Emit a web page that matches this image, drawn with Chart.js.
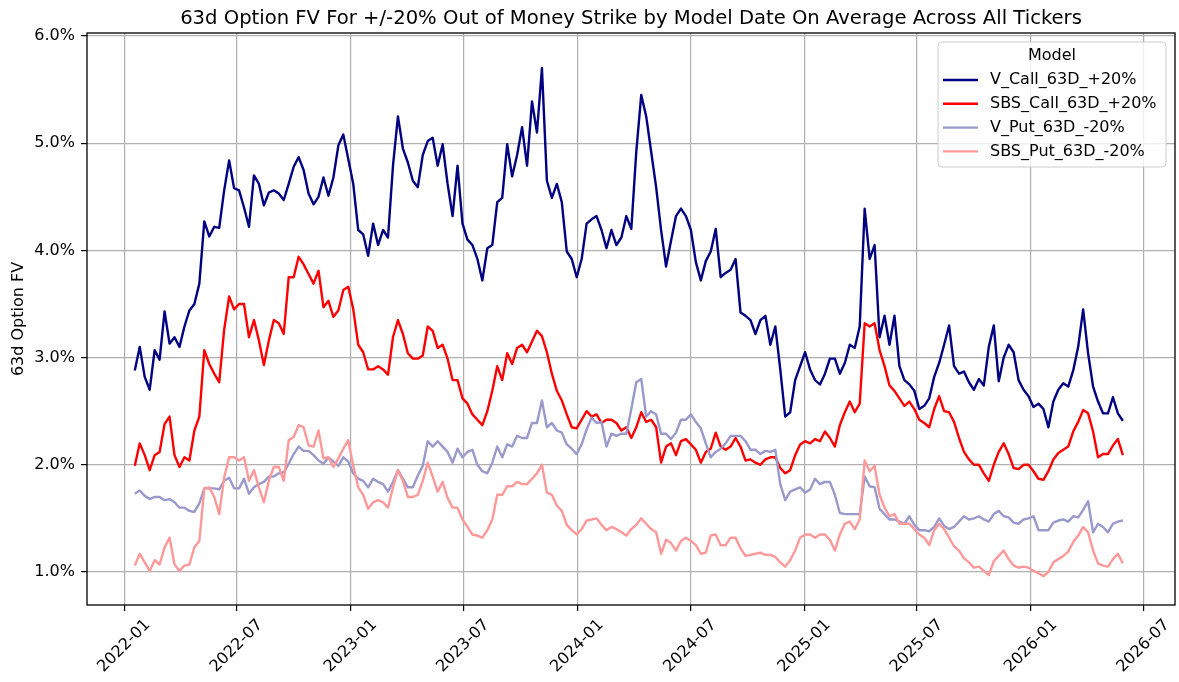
<!DOCTYPE html>
<html>
<head>
<meta charset="utf-8">
<script src="https://cdn.jsdelivr.net/npm/chart.js@4.4.1/dist/chart.umd.min.js"></script>
<style>
  html, body { margin: 0; padding: 0; background: #fff; }
  #wrap { width: 1179px; height: 682px; }
</style>
</head>
<body>
<div id="wrap"><canvas id="chart" width="1179" height="682"></canvas></div>
<script>
// sampled every 8 days from the first model date
const startDate = '2022-01-18';
const stepDays = 8;

const vCall = [
  2.88, 3.10, 2.82, 2.70, 3.07, 2.98, 3.43, 3.13, 3.19, 3.10,
  3.29, 3.44, 3.50, 3.69, 4.27, 4.13, 4.22, 4.21, 4.56, 4.84,
  4.58, 4.56, 4.40, 4.22, 4.70, 4.62, 4.42, 4.54, 4.56, 4.53,
  4.47, 4.62, 4.78, 4.87, 4.75, 4.53, 4.43, 4.50, 4.68, 4.51,
  4.68, 4.98, 5.08, 4.85, 4.62, 4.19, 4.15, 3.95, 4.25, 4.05,
  4.19, 4.12, 4.79, 5.25, 4.95, 4.82, 4.65, 4.59, 4.89, 5.02,
  5.05, 4.79, 4.99, 4.62, 4.32, 4.79, 4.25, 4.10, 4.05, 3.92,
  3.72, 4.02, 4.05, 4.45, 4.49, 4.99, 4.69, 4.89, 5.15, 4.79,
  5.39, 5.10, 5.70, 4.65, 4.49, 4.62, 4.45, 3.99, 3.92, 3.75,
  3.92, 4.25, 4.29, 4.32, 4.19, 4.02, 4.19, 4.05, 4.12, 4.32,
  4.20, 4.92, 5.45, 5.25, 4.92, 4.59, 4.19, 3.85, 4.09, 4.32,
  4.39, 4.32, 4.19, 3.89, 3.72, 3.90, 3.99, 4.20, 3.75, 3.79,
  3.82, 3.92, 3.42, 3.39, 3.35, 3.22, 3.35, 3.39, 3.12, 3.29,
  2.89, 2.45, 2.49, 2.79, 2.92, 3.05, 2.89, 2.79, 2.75, 2.85,
  2.99, 2.99, 2.85, 2.95, 3.12, 3.09, 3.29, 4.39, 3.92, 4.05,
  3.19, 3.39, 3.12, 3.39, 2.92, 2.79, 2.75, 2.69, 2.52, 2.55,
  2.62, 2.82, 2.95, 3.12, 3.30, 2.92, 2.85, 2.87, 2.77, 2.70,
  2.80, 2.74, 3.10, 3.30, 2.78, 3.00, 3.12, 3.05, 2.79, 2.70,
  2.64, 2.54, 2.57, 2.52, 2.35, 2.59, 2.70, 2.76, 2.73, 2.88,
  3.10, 3.45, 3.04, 2.73, 2.59, 2.48, 2.48, 2.63, 2.48, 2.41
];

const sbsCall = [
  1.99, 2.20, 2.09, 1.95, 2.09, 2.12, 2.38, 2.45, 2.09, 1.98,
  2.07, 2.04, 2.32, 2.45, 3.07, 2.94, 2.85, 2.77, 3.26, 3.57,
  3.45, 3.50, 3.50, 3.19, 3.35, 3.16, 2.93, 3.16, 3.35, 3.32,
  3.22, 3.75, 3.75, 3.94, 3.87, 3.78, 3.69, 3.81, 3.47, 3.53,
  3.38, 3.44, 3.63, 3.66, 3.45, 3.12, 3.05, 2.89, 2.89, 2.92,
  2.89, 2.84, 3.19, 3.35, 3.22, 3.04, 2.99, 2.99, 3.02, 3.29,
  3.25, 3.09, 3.12, 2.99, 2.79, 2.79, 2.62, 2.57, 2.47, 2.42,
  2.37, 2.50, 2.69, 2.92, 2.79, 3.04, 2.94, 3.09, 3.12, 3.05,
  3.15, 3.25, 3.20, 3.05, 2.85, 2.69, 2.60, 2.47, 2.35, 2.34,
  2.42, 2.50, 2.45, 2.47, 2.39, 2.42, 2.42, 2.39, 2.32, 2.35,
  2.25, 2.35, 2.49, 2.40, 2.42, 2.35, 2.02, 2.17, 2.20, 2.09,
  2.22, 2.24, 2.19, 2.14, 2.02, 2.12, 2.15, 2.30, 2.17, 2.14,
  2.17, 2.25, 2.17, 2.04, 2.05, 2.02, 2.00, 2.05, 2.07, 2.07,
  1.97, 1.92, 1.95, 2.09, 2.19, 2.22, 2.20, 2.24, 2.22, 2.31,
  2.25, 2.17, 2.37, 2.49, 2.59, 2.49, 2.57, 3.32, 3.29, 3.32,
  3.07, 2.92, 2.74, 2.69, 2.62, 2.55, 2.59, 2.52, 2.42, 2.39,
  2.35, 2.52, 2.64, 2.50, 2.49, 2.40, 2.25, 2.12, 2.05, 2.00,
  2.00, 1.92, 1.85, 2.00, 2.12, 2.20, 2.10, 1.97, 1.96, 2.00,
  2.00, 1.94, 1.87, 1.86, 1.94, 2.05, 2.11, 2.14, 2.17, 2.31,
  2.40, 2.51, 2.48, 2.31, 2.07, 2.10, 2.10, 2.18, 2.24, 2.09
];

const vPut = [
  1.73, 1.76, 1.71, 1.68, 1.70, 1.70, 1.67, 1.68, 1.65, 1.60,
  1.60, 1.57, 1.56, 1.64, 1.78, 1.78, 1.78, 1.77, 1.85, 1.88,
  1.78, 1.78, 1.87, 1.73, 1.79, 1.82, 1.84, 1.89, 1.89, 1.92,
  1.93, 2.01, 2.10, 2.17, 2.13, 2.13, 2.09, 2.04, 2.01, 2.07,
  2.03, 1.99, 2.07, 2.03, 1.92, 1.87, 1.85, 1.79, 1.87, 1.84,
  1.82, 1.75, 1.84, 1.95, 1.87, 1.79, 1.79, 1.90, 1.99, 2.22,
  2.17, 2.22, 2.17, 2.12, 2.02, 2.15, 2.07, 2.12, 2.14, 2.00,
  1.94, 1.92, 2.02, 2.17, 2.07, 2.19, 2.17, 2.27, 2.25, 2.25,
  2.39, 2.39, 2.60, 2.35, 2.39, 2.32, 2.30, 2.19, 2.15, 2.10,
  2.19, 2.33, 2.44, 2.39, 2.40, 2.17, 2.29, 2.27, 2.29, 2.29,
  2.52, 2.77, 2.80, 2.45, 2.50, 2.47, 2.29, 2.29, 2.24, 2.30,
  2.42, 2.42, 2.47, 2.40, 2.34, 2.20, 2.07, 2.12, 2.15, 2.20,
  2.27, 2.27, 2.27, 2.22, 2.14, 2.14, 2.10, 2.13, 2.12, 2.14,
  1.82, 1.67, 1.75, 1.77, 1.79, 1.74, 1.77, 1.87, 1.82, 1.84,
  1.84, 1.72, 1.55, 1.54, 1.54, 1.54, 1.54, 1.89, 1.80, 1.79,
  1.59, 1.54, 1.49, 1.49, 1.47, 1.45, 1.52, 1.44, 1.39, 1.39,
  1.38, 1.42, 1.50, 1.43, 1.40, 1.42, 1.47, 1.52, 1.49, 1.50,
  1.52, 1.49, 1.47, 1.54, 1.57, 1.52, 1.51, 1.46, 1.45, 1.49,
  1.50, 1.52, 1.39, 1.39, 1.39, 1.46, 1.48, 1.49, 1.47, 1.52,
  1.51, 1.58, 1.66, 1.37, 1.45, 1.42, 1.37, 1.45, 1.47, 1.48
];

const sbsPut = [
  1.06, 1.17, 1.09, 1.01, 1.11, 1.07, 1.23, 1.32, 1.07, 1.01,
  1.06, 1.07, 1.23, 1.29, 1.78, 1.79, 1.70, 1.54, 1.88, 2.07,
  2.07, 2.04, 2.07, 1.85, 1.95, 1.79, 1.65, 1.85, 1.98, 1.98,
  1.85, 2.23, 2.26, 2.37, 2.35, 2.18, 2.17, 2.32, 2.06, 2.07,
  1.98, 2.06, 2.15, 2.23, 1.99, 1.79, 1.72, 1.59, 1.65, 1.67,
  1.65, 1.60, 1.79, 1.95, 1.85, 1.70, 1.70, 1.72, 1.85, 2.02,
  1.89, 1.75, 1.84, 1.69, 1.60, 1.60, 1.49, 1.42, 1.35, 1.34,
  1.32, 1.39, 1.49, 1.72, 1.72, 1.80, 1.80, 1.84, 1.82, 1.82,
  1.87, 1.92, 2.00, 1.74, 1.72, 1.62, 1.57, 1.44, 1.39, 1.35,
  1.40, 1.48, 1.49, 1.50, 1.44, 1.39, 1.42, 1.40, 1.37, 1.34,
  1.40, 1.44, 1.50, 1.45, 1.40, 1.37, 1.17, 1.30, 1.27, 1.20,
  1.29, 1.32, 1.29, 1.25, 1.17, 1.18, 1.34, 1.35, 1.25, 1.25,
  1.32, 1.32, 1.22, 1.15, 1.16, 1.17, 1.18, 1.16, 1.16, 1.14,
  1.09, 1.05, 1.11, 1.20, 1.32, 1.35, 1.35, 1.32, 1.35, 1.35,
  1.30, 1.20, 1.35, 1.45, 1.47, 1.40, 1.49, 2.04, 1.94, 1.99,
  1.72, 1.60, 1.52, 1.54, 1.45, 1.45, 1.45, 1.40, 1.35, 1.32,
  1.25, 1.39, 1.45, 1.40, 1.32, 1.24, 1.20, 1.13, 1.09, 1.04,
  1.05, 1.01, 0.97, 1.10, 1.15, 1.20, 1.12, 1.06, 1.04, 1.05,
  1.04, 1.01, 0.99, 0.96, 1.00, 1.09, 1.12, 1.15, 1.19, 1.28,
  1.34, 1.42, 1.37, 1.20, 1.08, 1.06, 1.05, 1.12, 1.17, 1.08
];

const seriesLabels = ['V_Call_63D_+20%', 'SBS_Call_63D_+20%', 'V_Put_63D_-20%', 'SBS_Put_63D_-20%'];
const xTickLabels = ['2022-01', '2022-07', '2023-01', '2023-07', '2024-01', '2024-07', '2025-01', '2025-07', '2026-01', '2026-07'];
const yTickValues = [1, 2, 3, 4, 5, 6];

const chartTitle = '63d Option FV For +/-20% Out of Money Strike by Model Date On Average Across All Tickers';
const FONT = '"DejaVu Sans", sans-serif';
const DAY = 86400000;

const monthToMs = (label) => {
  const [y, m] = label.split('-').map(Number);
  return Date.UTC(y, m - 1, 1);
};

const startMs = Date.parse(`${startDate}T00:00:00Z`);
const toPoints = (values) => values.map((v, i) => ({ x: startMs + i * stepDays * DAY, y: v }));

const legendBox = {
  id: 'legendBox',
  afterDraw(chart) {
    const { ctx, chartArea: area, scales: { x } } = chart;
    ctx.save();

    // axes frame
    ctx.strokeStyle = '#000';
    ctx.lineWidth = 1.3;
    ctx.strokeRect(area.left, area.top, area.right - area.left, area.bottom - area.top);

    // title
    ctx.fillStyle = '#000';
    ctx.font = `19.6px ${FONT}`;
    ctx.textAlign = 'center';
    ctx.textBaseline = 'alphabetic';
    ctx.fillText(chartTitle, (area.left + area.right) / 2, area.top - 9);

    // x labels rotated 45 deg and centred on the tick, like matplotlib
    ctx.font = `16px ${FONT}`;
    x.ticks.forEach((tick, i) => {
      const label = xTickLabels[i];
      const half = (ctx.measureText(label).width + 18) * Math.SQRT1_2 / 2;
      ctx.save();
      ctx.translate(x.getPixelForValue(tick.value), area.bottom + 11 + half);
      ctx.rotate(-Math.PI / 4);
      ctx.textAlign = 'center';
      ctx.textBaseline = 'middle';
      ctx.fillText(label, 0, 0);
      ctx.restore();
    });

    // legend
    const left = area.right - 237;
    const top = area.top + 9;
    const w = 228;
    const h = 125;
    const r = 4;
    ctx.beginPath();
    ctx.moveTo(left + r, top);
    ctx.arcTo(left + w, top, left + w, top + h, r);
    ctx.arcTo(left + w, top + h, left, top + h, r);
    ctx.arcTo(left, top + h, left, top, r);
    ctx.arcTo(left, top, left + w, top, r);
    ctx.closePath();
    ctx.fillStyle = 'rgba(255,255,255,0.8)';
    ctx.fill();
    ctx.strokeStyle = '#cccccc';
    ctx.lineWidth = 1;
    ctx.stroke();

    ctx.fillStyle = '#000';
    ctx.textAlign = 'center';
    ctx.textBaseline = 'middle';
    ctx.fillText('Model', left + w / 2, top + 14);

    ctx.textAlign = 'left';
    chart.data.datasets.forEach((ds, i) => {
      const y = top + 38 + i * 23.8;
      ctx.strokeStyle = ds.borderColor;
      ctx.lineWidth = ds.borderWidth;
      ctx.beginPath();
      ctx.moveTo(left + 5, y);
      ctx.lineTo(left + 40, y);
      ctx.stroke();
      ctx.fillText(ds.label, left + 52, y);
    });

    ctx.restore();
  }
};

const colors = ['#000080', '#ff0000', '#9999cc', '#ff9999'];
const series = [vCall, sbsCall, vPut, sbsPut];

// eslint-disable-next-line no-new
new Chart(document.getElementById('chart'), {
  type: 'line',
  data: {
    datasets: series.map((values, i) => ({
      label: seriesLabels[i],
      data: toPoints(values),
      borderColor: colors[i],
      backgroundColor: colors[i],
      borderWidth: 2.4,
      pointRadius: 0,
      tension: 0,
      borderJoinStyle: 'round',
      order: series.length - 1 - i
    }))
  },
  options: {
    responsive: false,
    devicePixelRatio: 1,
    animation: false,
    events: [],
    layout: { padding: { top: 33, right: 4, left: 0, bottom: 0 } },
    plugins: {
      legend: { display: false },
      title: { display: false },
      tooltip: { enabled: false }
    },
    scales: {
      x: {
        type: 'linear',
        min: Date.UTC(2021, 10, 2),
        max: Date.UTC(2026, 7, 21),
        afterBuildTicks: (scale) => { scale.ticks = xTickLabels.map((l) => ({ value: monthToMs(l) })); },
        afterFit: (scale) => { scale.height = 77; },
        ticks: { display: false },
        grid: { color: '#b0b0b0', lineWidth: 1.2, tickLength: 6, tickColor: '#000', tickWidth: 1.2 },
        border: { display: false }
      },
      y: {
        min: 0.692,
        max: 6.028,
        afterBuildTicks: (scale) => { scale.ticks = yTickValues.map((v) => ({ value: v })); },
        afterFit: (scale) => { scale.width = 87; },
        ticks: {
          callback: (v) => `${Number(v).toFixed(1)}%`,
          font: { family: FONT, size: 16 },
          color: '#000',
          padding: 6
        },
        grid: { color: '#b0b0b0', lineWidth: 1.2, tickLength: 6, tickColor: '#000', tickWidth: 1.2 },
        border: { display: false },
        title: {
          display: true,
          text: '63d Option FV',
          font: { family: FONT, size: 16 },
          color: '#000',
          padding: { top: 9, bottom: 0 }
        }
      }
    }
  },
  plugins: [legendBox]
});
</script>
</body>
</html>
